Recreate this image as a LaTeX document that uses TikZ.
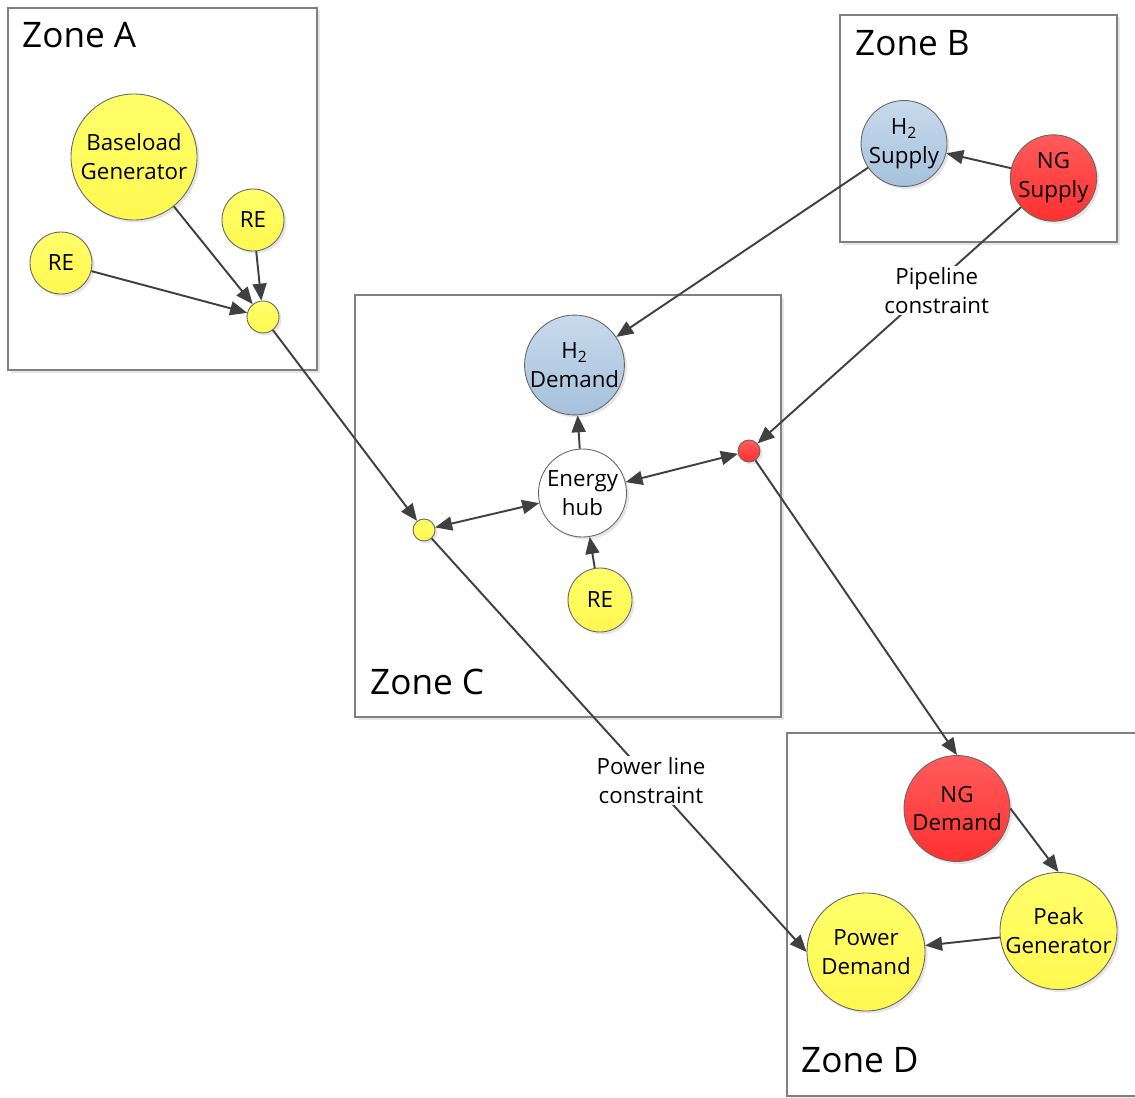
\documentclass[tikz,border=0pt]{standalone}
\usepackage{fontspec}
\setmainfont{Open Sans}
\usetikzlibrary{arrows.meta, shadows}

\definecolor{linegray}{HTML}{404040}
\definecolor{yellowtop}{HTML}{FFFF6A}
\definecolor{yellowbot}{HTML}{FFF850}
\definecolor{redtop}{HTML}{FF5C5C}
\definecolor{redbot}{HTML}{FF3030}
\definecolor{bluetop}{HTML}{C8DAEC}
\definecolor{bluebot}{HTML}{A6C1DD}

\begin{document}
\begin{tikzpicture}[
    zone/.style={
        draw=black!50,
        fill=white,
        line width=0.6pt,
        drop shadow={shadow xshift=0.05cm, shadow yshift=-0.05cm, opacity=0.2}
    },
    zonename/.style={anchor=base west, font=\fontsize{20}{24}\selectfont},
    bus/.style={
        circle,
        draw=black!60,
        line width=0.5pt,
        inner sep=0pt,
        align=center,
        font=\fontsize{12.7}{16.4}\selectfont,
        drop shadow={shadow xshift=0.05cm, shadow yshift=-0.05cm, opacity=0.2}
    },
    power/.style={bus, top color=yellowtop, bottom color=yellowbot},
    gas/.style={bus, top color=redtop, bottom color=redbot},
    hydrogen/.style={bus, top color=bluetop, bottom color=bluebot},
    hub/.style={bus, fill=white},
    constraint/.style={fill=white, align=center, inner sep=1pt, font=\fontsize{12.7}{16.4}\selectfont},
    arrow/.style={-{Triangle[length=3.4mm, width=2.8mm]}, line width=1.1pt, draw=linegray, fill=linegray},
    twoway/.style={{Triangle[length=3.4mm, width=2.8mm]}-{Triangle[length=3.4mm, width=2.8mm]}, line width=1.1pt, draw=linegray, fill=linegray}
]
\useasboundingbox (0,0) rectangle (22.7,-21.94);

% Zones
\draw[zone] (0.16,-0.16) rectangle (6.34,-7.40);
\draw[zone] (16.80,-0.30) rectangle (22.34,-4.84);
\draw[zone] (7.10,-5.90) rectangle (15.62,-14.34);
\draw[zone] (15.74,-14.66) rectangle (23.2,-21.92);

\node[zonename] (zoneA) at (0.32,-0.96) {Zone A};
\node[zonename] (zoneB) at (16.98,-1.12) {Zone B};
\node[zonename] (zoneC) at (7.28,-13.88) {Zone C};
\node[zonename] (zoneD) at (15.90,-21.44) {Zone D};

% Zone A
\node[power, minimum size=2.52cm] (baseload) at (2.68,-3.14) {Baseload\\Generator};
\node[power, minimum size=1.24cm] (reA1) at (5.06,-4.40) {RE};
\node[power, minimum size=1.24cm] (reA2) at (1.22,-5.26) {RE};
\node[power, minimum size=0.64cm] (busA) at (5.26,-6.34) {};

% Zone B
\node[hydrogen, minimum size=1.68cm] (h2supply) at (18.08,-2.87) {H\textsubscript{2}\\Supply};
\node[gas, minimum size=1.70cm] (ngsupply) at (21.07,-3.56) {NG\\Supply};

% Zone C
\node[hydrogen, minimum size=1.98cm] (h2demand) at (11.49,-7.30) {H\textsubscript{2}\\Demand};
\node[hub, minimum size=1.76cm] (hub) at (11.65,-9.86) {Energy\\hub};
\node[gas, minimum size=0.44cm] (busgas) at (14.98,-9.02) {};
\node[power, minimum size=0.44cm] (busC) at (8.48,-10.60) {};
\node[power, minimum size=1.28cm] (reC) at (12.00,-12.00) {RE};

% Zone D
\node[gas, minimum size=2.12cm] (ngdemand) at (19.14,-16.17) {NG\\Demand};
\node[power, minimum size=2.34cm] (peak) at (21.17,-18.62) {Peak\\Generator};
\node[power, minimum size=2.36cm] (powdemand) at (17.32,-19.04) {Power\\Demand};

% Electricity
\draw[arrow] (baseload) -- (busA);
\draw[arrow] (reA1) -- (busA);
\draw[arrow] (reA2) -- (busA);
\draw[arrow] (busA) -- (busC);
\draw[twoway] (busC) -- (hub);
\draw[arrow] (reC) -- (hub);
\draw[arrow] (busC) -- node[constraint, pos=0.585] (powerline) {Power line\\constraint} (powdemand.west);
\draw[arrow] (peak) -- (powdemand);

% Gas and hydrogen
\draw[arrow] (ngsupply) -- (h2supply);
\draw[arrow] (h2supply) -- (h2demand);
\draw[arrow] (hub) -- (h2demand);
\draw[twoway] (hub) -- (busgas);
\draw[arrow] (ngsupply) -- node[constraint, pos=0.32, yshift=-0.16cm] (pipeline) {Pipeline\\constraint} (busgas);
\draw[arrow] (busgas) -- (ngdemand.north);
\draw[arrow] (ngdemand.east) -- (peak.north);

\end{tikzpicture}
\end{document}
